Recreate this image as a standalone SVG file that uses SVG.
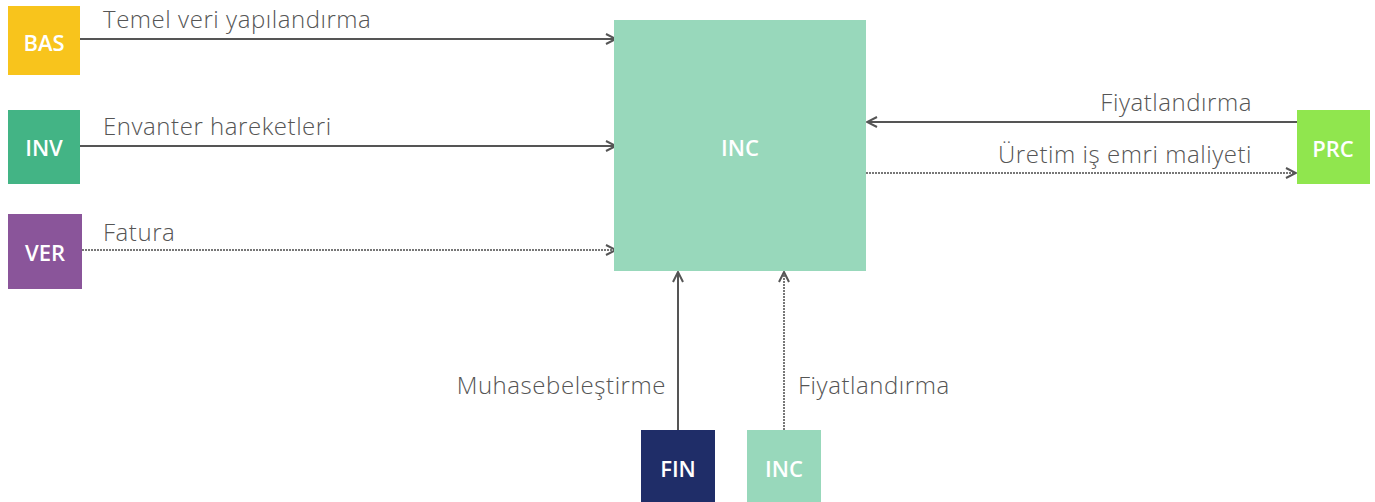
<svg xmlns="http://www.w3.org/2000/svg" width="1375" height="502" viewBox="0 0 1375 502">
<style>
.lbl{font-family:"Open Sans","DejaVu Sans",sans-serif;font-size:24px;font-weight:300;fill:#555;letter-spacing:0.55px}
.nl{font-family:"Open Sans","DejaVu Sans",sans-serif;font-size:22px;fill:#fff;text-anchor:middle;dominant-baseline:central;font-weight:600}
.ln{stroke:#555;stroke-width:2;fill:none;marker-end:url(#ah)}
.dl{stroke:#777;stroke-width:2;fill:none;stroke-dasharray:2 1;marker-end:url(#ah)}
</style>
<defs>
<marker id="ah" viewBox="0 0 12 12" refX="11" refY="6" markerWidth="12" markerHeight="12" markerUnits="userSpaceOnUse" orient="auto">
<path d="M1,1 L11,6 L1,11" fill="none" stroke="#555" stroke-width="2"/>
</marker>
</defs>
<g id="connectors">
<line class="ln" x1="80" y1="39" x2="616" y2="39"/>
<line class="ln" x1="80" y1="146" x2="616" y2="146"/>
<line class="dl" x1="82" y1="250" x2="616" y2="250"/>
<line class="ln" x1="1297" y1="122" x2="867" y2="122"/>
<line class="dl" x1="866" y1="173" x2="1296" y2="173"/>
<line class="ln" x1="678" y1="430" x2="678" y2="272"/>
<line class="dl" x1="784" y1="430" x2="784" y2="272"/>
<text class="lbl" x="103" y="28">Temel veri yapılandırma</text>
<text class="lbl" x="103" y="135">Envanter hareketleri</text>
<text class="lbl" x="103" y="241">Fatura</text>
<text class="lbl" x="1252" y="111" text-anchor="end">Fiyatlandırma</text>
<text class="lbl" x="1252" y="163" text-anchor="end">Üretim iş emri maliyeti</text>
<text class="lbl" x="666" y="394" text-anchor="end">Muhasebeleştirme</text>
<text class="lbl" x="798" y="394">Fiyatlandırma</text>
</g>
<g id="BAS"><rect x="8" y="6" width="72" height="69" fill="#f8c41c"/><text class="nl" x="44" y="42">BAS</text></g>
<g id="INV"><rect x="8" y="110" width="72" height="74" fill="#43b485"/><text class="nl" x="44" y="147">INV</text></g>
<g id="VER"><rect x="8" y="214" width="74" height="75" fill="#8a559a"/><text class="nl" x="45" y="252">VER</text></g>
<g id="INC"><rect x="614" y="20" width="252" height="251" fill="#98d8bb"/><text class="nl" x="740" y="147">INC</text></g>
<g id="PRC"><rect x="1297" y="110" width="73" height="74" fill="#90e64e"/><text class="nl" x="1333" y="148">PRC</text></g>
<g id="FIN"><rect x="641" y="430" width="74" height="72" fill="#1f2d68"/><text class="nl" x="678" y="468">FIN</text></g>
<g id="INC2"><rect x="747" y="430" width="74" height="72" fill="#98d8bb"/><text class="nl" x="784" y="468">INC</text></g>
</svg>
